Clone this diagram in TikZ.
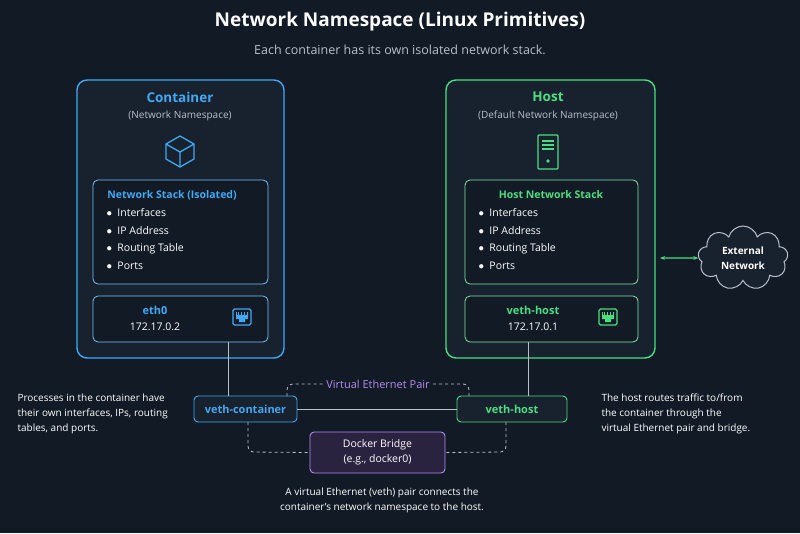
\documentclass[tikz,border=0pt]{standalone}
\usepackage{fontspec}
\setmainfont{Open Sans}
\usetikzlibrary{positioning,shapes.symbols,arrows.meta}
\definecolor{bg}{HTML}{121A26}
\definecolor{panel}{HTML}{18212E}
\definecolor{cblue}{HTML}{3FA9F5}
\definecolor{hgreen}{HTML}{4ADE80}
\definecolor{vpurple}{HTML}{B48CF0}
\definecolor{bpanel}{HTML}{2A2340}
\definecolor{txtgray}{HTML}{B8C0CC}
\definecolor{wire}{HTML}{B8C0CC}
\tikzset{nsbox/.style={rounded corners=10pt, line width=1.4pt, fill=panel},
         inbox/.style={rounded corners=5pt, line width=0.8pt, fill=bg},
         smallbox/.style={draw, rounded corners=4pt, line width=0.9pt, fill=panel, font=\bfseries\fontsize{11}{13}\selectfont},
         bullets/.style={text=white, font=\fontsize{10.5}{17.5}\selectfont, align=left, anchor=north west},
         note/.style={text=white, font=\fontsize{10}{15}\selectfont, align=left, anchor=north west},
         dash link/.style={wire, dashed, line width=0.8pt, rounded corners=6pt},
         wire link/.style={wire, line width=1pt},
         }
\begin{document}
\begin{tikzpicture}[x=1pt,y=-1pt]
\fill[bg] (0,0) rectangle (800,533);
\useasboundingbox (0,0) rectangle (800,533);
% title
\node[text=white, font=\bfseries\fontsize{19}{22}\selectfont] (title) at (400,22) {Network Namespace (Linux Primitives)};
\node[text=txtgray, font=\fontsize{12.5}{15}\selectfont] (subtitle) at (400,50) {Each container has its own isolated network stack.};
% container side
\draw[nsbox, draw=cblue] (77,80) rectangle (284,358);
\node[text=cblue, font=\bfseries\fontsize{13.5}{16}\selectfont] (ctitle) at (180,97) {Container};
\node[text=txtgray, font=\fontsize{10}{12}\selectfont] (csub) at (180,116) {(Network Namespace)};
\begin{scope}[shift={(180,151)}, draw=cblue, line width=1.3pt, line join=round]
  \draw (0,-15) -- (14,-7) -- (14,8) -- (0,16) -- (-14,8) -- (-14,-7) -- cycle;
  \draw (-14,-7) -- (0,1) -- (14,-7) (0,1) -- (0,16);
\end{scope}
\draw[inbox, draw=cblue!70] (93,180) rectangle (268,284);
\node[text=cblue, font=\bfseries\fontsize{10.5}{12}\selectfont] (cstack) at (172,195) {Network Stack (Isolated)};
\node[bullets] (clist) at (103,205) {$\bullet$\ \ Interfaces\\$\bullet$\ \ IP Address\\$\bullet$\ \ Routing Table\\$\bullet$\ \ Ports};
\draw[inbox, draw=cblue!70] (93,296) rectangle (268,342);
\node[text=cblue, font=\bfseries\fontsize{11}{12}\selectfont] (eth) at (155,310) {eth0};
\node[text=white, font=\fontsize{10.5}{12}\selectfont] (eip) at (155,327) {172.17.0.2};
\begin{scope}[shift={(242,318)}]
  \draw[cblue, line width=1.2pt, rounded corners=1.5pt] (-9,-9) rectangle (9,7);
  \fill[cblue] (-6,-6) -- (6,-6) -- (6,1) -- (3,1) -- (3,4) -- (-3,4) -- (-3,1) -- (-6,1) -- cycle;
  \foreach \k in {-4.5,-3,...,4.5} \draw[bg, line width=0.5pt] (\k,-6) -- (\k,-3.5);
\end{scope}
% host side
\draw[nsbox, draw=hgreen] (446,80) rectangle (655,358);
\node[text=hgreen, font=\bfseries\fontsize{13.5}{16}\selectfont] (htitle) at (548,97) {Host};
\node[text=txtgray, font=\fontsize{10}{12}\selectfont] (hsub) at (548,116) {(Default Network Namespace)};
\begin{scope}[shift={(548,152)}, line width=1.3pt]
  \draw[hgreen, rounded corners=1pt] (-10,-17) rectangle (10,17);
  \draw[hgreen] (-6,-11) -- (6,-11) (-6,-7) -- (6,-7) (-6,-3) -- (6,-3);
  \fill[hgreen] (0,9) circle (1.8pt);
\end{scope}
\draw[inbox, draw=hgreen!70] (465,180) rectangle (638,284);
\node[text=hgreen, font=\bfseries\fontsize{10.5}{12}\selectfont] (hstack) at (551,195) {Host Network Stack};
\node[bullets] (hlist) at (475,205) {$\bullet$\ \ Interfaces\\$\bullet$\ \ IP Address\\$\bullet$\ \ Routing Table\\$\bullet$\ \ Ports};
\draw[inbox, draw=hgreen!70] (465,296) rectangle (638,342);
\node[text=hgreen, font=\bfseries\fontsize{11}{12}\selectfont] (veth) at (533,310) {veth-host};
\node[text=white, font=\fontsize{10.5}{12}\selectfont] (hip) at (533,327) {172.17.0.1};
\begin{scope}[shift={(608,318)}]
  \draw[hgreen, line width=1.2pt, rounded corners=1.5pt] (-9,-9) rectangle (9,7);
  \fill[hgreen] (-6,-6) -- (6,-6) -- (6,1) -- (3,1) -- (3,4) -- (-3,4) -- (-3,1) -- (-6,1) -- cycle;
  \foreach \k in {-4.5,-3,...,4.5} \draw[bg, line width=0.5pt] (\k,-6) -- (\k,-3.5);
\end{scope}
% external network
\node[cloud, cloud puffs=9, aspect=1.5, draw=wire, fill=panel, line width=1pt, minimum width=90pt, minimum height=64pt, inner sep=0pt, text=white, font=\bfseries\fontsize{10}{15}\selectfont, align=center] (cloud) at (743,258) {External\\Network};
\coordinate (hostedge) at (660,258);
\draw[hgreen, line width=1.2pt, {Stealth[length=5pt]}-{Stealth[length=5pt]}] (hostedge) -- (cloud.west);
% veth pair
\node[smallbox, draw=cblue, text=cblue, minimum width=103pt, minimum height=26pt] (vc) at (245.5,409) {veth-container};
\node[smallbox, draw=hgreen, text=hgreen, minimum width=110pt, minimum height=26pt] (vh) at (512,409) {veth-host};
\node[draw=vpurple, fill=bpanel, rounded corners=4pt, line width=0.9pt, text=white, minimum width=135pt, minimum height=41pt, align=center, font=\fontsize{10.5}{15}\selectfont] (br) at (377.5,452.5) {Docker Bridge\\(e.g., docker0)};
\draw[wire link] (vc) -- (vh);
\draw[wire link] (228,342) -- (vc.north -| 228,0);
\draw[wire link] (528,342) -- (vh.north -| 528,0);
\node[text=vpurple, font=\fontsize{11}{13}\selectfont] (vpair) at (378,384) {Virtual Ethernet Pair};
\draw[dash link] (287,396) -- (287,384) -- (vpair.west);
\draw[dash link] (vpair.east) -- (469,384) -- (469,396);
\draw[dash link] (248,422) -- (248,452) -- (br.west);
\draw[dash link] (506,422) -- (506,452) -- (br.east);
% notes
\node[note] (lnote) at (14,390) {Processes in the container have\\their own interfaces, IPs, routing\\tables, and ports.};
\node[note] (rnote) at (598,390) {The host routes traffic to/from\\the container through the\\virtual Ethernet pair and bridge.};
\node[note, anchor=north, align=center] (bnote) at (382,484) {A virtual Ethernet (veth) pair connects the\\container's network namespace to the host.};
\end{tikzpicture}
\end{document}
